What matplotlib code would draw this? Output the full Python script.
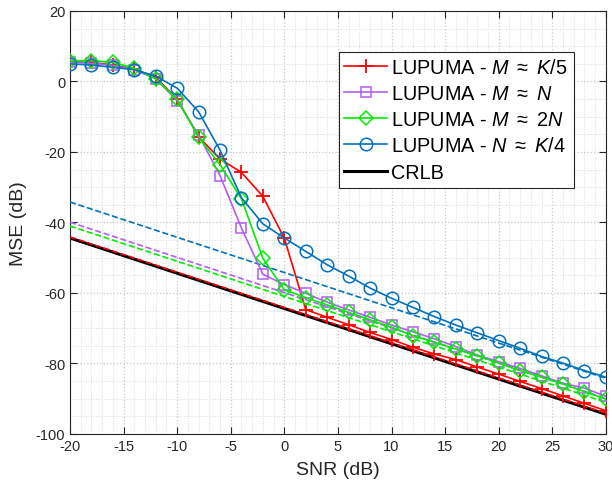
import numpy as np
import matplotlib.pyplot as plt
from matplotlib.ticker import MultipleLocator

plt.rcParams['font.family'] = ['Liberation Sans', 'DejaVu Sans']
plt.rcParams['mathtext.fontset'] = 'custom'
plt.rcParams['mathtext.rm'] = 'Liberation Sans'
plt.rcParams['mathtext.it'] = 'Liberation Sans:italic'
plt.rcParams['axes.unicode_minus'] = False

snr = np.arange(-20, 31, 2)

# LUPUMA - M ~ K/5
mse_k5 = [5.6, 5.4, 4.7, 3.5, 1.2, -5.0, -15.7, -22.0, -25.8, -32.6, -44.5, -64.7, -66.9,
          -69.0, -71.2, -73.2, -75.4, -77.3, -78.9, -81.0, -83.0, -85.1, -87.1, -89.2, -91.3, -93.4]
# LUPUMA - M ~ N
mse_n = [5.5, 5.2, 4.6, 3.3, 0.8, -5.5, -15.2, -26.7, -41.6, -54.7, -57.6, -60.1, -62.6,
         -64.8, -66.9, -69.1, -71.0, -73.0, -75.2, -77.6, -79.5, -81.4, -83.5, -85.6, -87.0, -89.3]
# LUPUMA - M ~ 2N
mse_2n = [5.9, 5.9, 5.4, 3.8, 0.7, -5.0, -15.8, -23.6, -33.3, -50.2, -59.1, -61.3, -63.4,
          -65.5, -67.6, -69.7, -72.1, -74.0, -75.9, -77.8, -79.9, -82.0, -83.9, -85.8, -88.0, -90.1]
# LUPUMA - N ~ K/4
mse_k4 = [5.0, 4.7, 4.0, 3.35, 1.5, -1.9, -8.6, -19.5, -33.0, -40.4, -44.4, -48.2, -52.0,
          -55.2, -58.6, -61.5, -64.1, -66.7, -69.1, -71.3, -73.5, -75.7, -78.0, -79.9, -82.0, -83.9]

crlb = [-44.4 - (s + 20) for s in snr]
# bounds for each configuration (dashed)
bound_k5 = [-44.1 - (s + 20) for s in snr]
bound_n = [-39.9 - (s + 20) for s in snr]
bound_2n = [-41.0 - (s + 20) for s in snr]
bound_k4 = [-34.2 - (s + 20) for s in snr]

red = '#ff0000'
purple = '#b45cf5'
green = '#00ee00'
blue = '#0072bd'

fig = plt.figure(figsize=(6.12, 4.85), dpi=100)
ax = fig.add_axes([0.1144, 0.1031, 0.8756, 0.8722])

l5, = ax.plot(snr, crlb, color='k', lw=2.2, label='CRLB', zorder=2)
ax.plot(snr, bound_k5, '--', color=red, lw=1.2, zorder=3)
ax.plot(snr, bound_n, '--', color=purple, lw=1.2, zorder=3)
ax.plot(snr, bound_2n, '--', color=green, lw=1.2, zorder=3)
ax.plot(snr, bound_k4, '--', color=blue, lw=1.2, zorder=3)

ms = 8
l1, = ax.plot(snr, mse_k5, '-+', color=red, lw=1.2, ms=ms + 2, mew=1.3,
              label=r'LUPUMA - $\mathit{M}$ $\approx$ $\mathit{K/5}$', zorder=4)
l2, = ax.plot(snr, mse_n, '-s', color=purple, lw=1.2, ms=ms - 1, mfc='none', mew=1.1,
              label=r'LUPUMA - $\mathit{M}$ $\approx$ $\mathit{N}$', zorder=4)
l3, = ax.plot(snr, mse_2n, '-D', color=green, lw=1.2, ms=ms - 1, mfc='none', mew=1.1,
              label=r'LUPUMA - $\mathit{M}$ $\approx$ 2$\mathit{N}$', zorder=4)
l4, = ax.plot(snr, mse_k4, '-o', color=blue, lw=1.2, ms=ms + 1, mfc='none', mew=1.1,
              label=r'LUPUMA - $\mathit{N}$ $\approx$ $\mathit{K/4}$', zorder=4)

ax.set_xlim(-20, 30)
ax.set_ylim(-100, 20)
ax.xaxis.set_major_locator(MultipleLocator(5))
ax.xaxis.set_minor_locator(MultipleLocator(1))
ax.yaxis.set_major_locator(MultipleLocator(20))
ax.yaxis.set_minor_locator(MultipleLocator(5))
ax.grid(which='major', color='#c8c8c8', ls=':', lw=0.9)
ax.grid(which='minor', color='#dcdcdc', ls=':', lw=0.7)
ax.set_axisbelow(True)
ax.tick_params(which='both', direction='in', top=True, right=True, labelsize=10.5, colors='#262626')
ax.tick_params(which='major', length=5)
ax.tick_params(which='minor', length=0)
for sp in ax.spines.values():
    sp.set_color('#262626')

ax.set_xlabel('SNR (dB)', fontsize=14, color='#262626', labelpad=6)
ax.set_ylabel('MSE (dB)', fontsize=14, color='#262626', labelpad=6)

leg = ax.legend(handles=[l1, l2, l3, l4, l5], loc='upper right', bbox_to_anchor=(0.940, 0.903),
                fontsize=14.3, fancybox=False, edgecolor='#262626', framealpha=1,
                handlelength=2.15, handletextpad=0.2, borderpad=0.3, labelspacing=0.36,
                borderaxespad=0)
leg.get_frame().set_linewidth(0.8)

fig.savefig('out.png', dpi=100)
